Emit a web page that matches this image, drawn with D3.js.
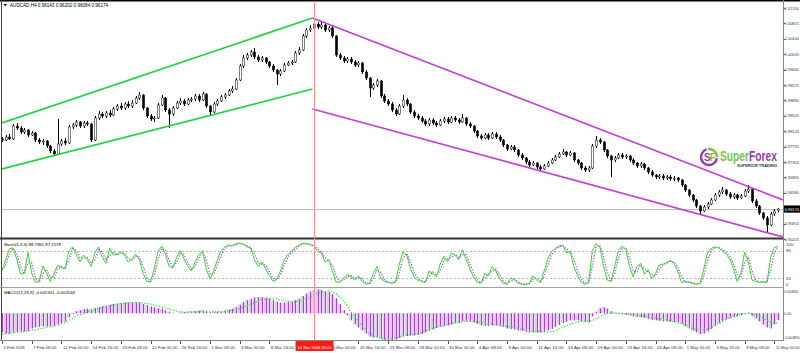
<!DOCTYPE html>
<html><head><meta charset="utf-8">
<script src="https://cdn.jsdelivr.net/npm/d3@7"></script>
<style>html,body{margin:0;padding:0;background:#fff;overflow:hidden}svg{display:block;font-family:"Liberation Sans",Arial,sans-serif}</style>
</head><body><svg id="c" width="800" height="353"></svg>
<script>
const symbolTitle = "AUDCAD,H4  0.96143 0.96202 0.96084 0.96174";
const stochTitle = "Stoch(5,3,3) 88.7965 87.2578";
const macdTitle = "MACD(12,26,9) -0.001341 -0.002044";

const opens = [
0.97925,0.97900,0.97975,0.97925,0.98250,0.98200,0.98100,0.98150,0.98025,0.98075,
0.97900,0.97850,0.97875,0.97750,0.97625,0.97550,0.97800,0.97875,0.97825,0.98225,
0.98275,0.98350,0.98250,0.98325,0.98300,0.97900,0.98450,0.98550,0.98500,0.98575,
0.98525,0.98675,0.98750,0.98700,0.98800,0.98750,0.98825,0.98950,0.99025,0.98700,
0.98500,0.98425,0.98450,0.98775,0.98950,0.98650,0.98550,0.98700,0.98825,0.98875,
0.98800,0.98900,0.98925,0.99000,0.98900,0.99050,0.98750,0.98600,0.98800,0.98875,
0.98975,0.99025,0.99125,0.99175,0.99400,0.99750,0.99950,1.00025,1.00100,0.99975,
0.99900,0.99950,0.99850,0.99750,0.99650,0.99550,0.99625,0.99775,0.99825,0.99850,
1.00075,1.00150,1.00500,1.00650,1.00700,1.00800,1.00725,1.00775,1.00650,1.00700,
1.00500,1.00025,0.99950,0.99875,0.99925,0.99850,0.99775,0.99825,0.99600,0.99450,
0.99200,0.99275,0.99375,0.99000,0.98875,0.98800,0.98650,0.98550,0.98750,0.98900,
0.98800,0.98600,0.98500,0.98450,0.98375,0.98300,0.98400,0.98325,0.98275,0.98375,
0.98425,0.98350,0.98450,0.98400,0.98350,0.98450,0.98300,0.98250,0.98125,0.98000,
0.97950,0.98025,0.97950,0.98050,0.97975,0.97900,0.97775,0.97675,0.97725,0.97650,
0.97525,0.97450,0.97350,0.97275,0.97325,0.97225,0.97175,0.97250,0.97325,0.97400,
0.97475,0.97550,0.97600,0.97525,0.97575,0.97400,0.97325,0.97200,0.97150,0.97200,
0.97750,0.97900,0.97850,0.97650,0.97500,0.97400,0.97450,0.97525,0.97475,0.97500,
0.97400,0.97325,0.97250,0.97300,0.97200,0.97100,0.97025,0.96975,0.97000,0.96950,
0.96975,0.96925,0.96950,0.96900,0.96775,0.96650,0.96525,0.96400,0.96250,0.96125,
0.96225,0.96300,0.96400,0.96525,0.96600,0.96650,0.96550,0.96475,0.96525,0.96450,
0.96500,0.96625,0.96675,0.96375,0.96250,0.96075,0.95950,0.95775,0.96050,0.96143];

const highs = [
0.97975,0.98025,0.98050,0.98300,0.98325,0.98250,0.98200,0.98175,0.98125,0.98100,
0.97950,0.97925,0.97900,0.97775,0.97675,0.98425,0.97925,0.97950,0.98275,0.98325,
0.98400,0.98375,0.98375,0.98375,0.98325,0.98500,0.98625,0.98600,0.98625,0.98650,
0.98725,0.98800,0.98825,0.98850,0.98875,0.98900,0.99000,0.99100,0.99050,0.98725,
0.98550,0.98500,0.98825,0.99025,0.98975,0.98700,0.98750,0.98875,0.98950,0.98925,
0.98950,0.98975,0.99050,0.99050,0.99100,0.99075,0.98775,0.98850,0.98925,0.99025,
0.99075,0.99175,0.99250,0.99450,0.99800,1.00025,1.00075,1.00150,1.00200,1.00025,
1.00000,0.99975,0.99875,0.99800,0.99675,0.99675,0.99825,0.99875,0.99900,1.00125,
1.00225,1.00550,1.00700,1.00775,1.00925,1.00850,1.00850,1.00800,1.00750,1.00750,
1.00525,1.00075,1.00000,0.99975,0.99975,0.99900,0.99875,0.99850,0.99650,0.99475,
0.99325,0.99425,0.99400,0.99050,0.98925,0.98850,0.98700,0.98800,0.99025,0.98950,
0.98825,0.98650,0.98550,0.98500,0.98425,0.98450,0.98450,0.98375,0.98425,0.98475,
0.98475,0.98500,0.98500,0.98450,0.98550,0.98475,0.98350,0.98275,0.98150,0.98050,
0.98075,0.98075,0.98100,0.98100,0.98025,0.97925,0.97800,0.97775,0.97775,0.97675,
0.97575,0.97475,0.97400,0.97375,0.97350,0.97275,0.97300,0.97375,0.97450,0.97525,
0.97600,0.97675,0.97625,0.97625,0.97600,0.97425,0.97350,0.97250,0.97250,0.97800,
0.98000,0.97950,0.97875,0.97675,0.97525,0.97500,0.97575,0.97575,0.97550,0.97525,
0.97450,0.97350,0.97350,0.97325,0.97225,0.97150,0.97050,0.97050,0.97050,0.97025,
0.97025,0.97000,0.96975,0.96925,0.96800,0.96675,0.96550,0.96425,0.96275,0.96275,
0.96350,0.96450,0.96575,0.96650,0.96725,0.96675,0.96600,0.96575,0.96550,0.96550,
0.96675,0.96775,0.96700,0.96425,0.96275,0.96100,0.96000,0.96100,0.96175,0.96202];

const lows = [
0.97850,0.97875,0.97900,0.97900,0.98150,0.98050,0.98050,0.97975,0.98000,0.97850,
0.97800,0.97775,0.97700,0.97575,0.97525,0.97525,0.97750,0.97775,0.97800,0.98175,
0.98225,0.98200,0.98200,0.98250,0.97850,0.97875,0.98400,0.98450,0.98450,0.98475,
0.98500,0.98625,0.98650,0.98650,0.98700,0.98700,0.98800,0.98900,0.98650,0.98450,
0.98375,0.98350,0.98425,0.98750,0.98600,0.98200,0.98500,0.98675,0.98775,0.98750,
0.98775,0.98850,0.98875,0.98850,0.98875,0.98700,0.98525,0.98575,0.98750,0.98850,
0.98925,0.99000,0.99075,0.99150,0.99375,0.99700,0.99900,0.99975,0.99925,0.99850,
0.99850,0.99800,0.99700,0.99600,0.99275,0.99500,0.99600,0.99750,0.99775,0.99825,
1.00025,1.00125,1.00450,1.00600,1.00650,1.00675,1.00675,1.00600,1.00600,1.00450,
0.99975,0.99900,0.99825,0.99825,0.99800,0.99725,0.99725,0.99550,0.99400,0.98975,
0.99150,0.99225,0.98950,0.98825,0.98750,0.98600,0.98500,0.98525,0.98700,0.98750,
0.98550,0.98450,0.98400,0.98325,0.98250,0.98250,0.98275,0.98225,0.98250,0.98325,
0.98300,0.98325,0.98350,0.98300,0.98325,0.98250,0.98200,0.98075,0.97950,0.97900,
0.97925,0.97900,0.97925,0.97925,0.97850,0.97725,0.97625,0.97650,0.97600,0.97475,
0.97400,0.97300,0.97225,0.97250,0.97175,0.97125,0.97150,0.97225,0.97300,0.97375,
0.97450,0.97525,0.97475,0.97500,0.97350,0.97275,0.97150,0.97100,0.97100,0.97175,
0.97700,0.97800,0.97600,0.97450,0.96975,0.97350,0.97425,0.97425,0.97425,0.97350,
0.97275,0.97200,0.97200,0.97150,0.97050,0.96975,0.96925,0.96925,0.96900,0.96900,
0.96875,0.96875,0.96850,0.96725,0.96600,0.96475,0.96350,0.96200,0.96025,0.96100,
0.96175,0.96275,0.96375,0.96475,0.96550,0.96500,0.96425,0.96425,0.96400,0.96425,
0.96475,0.96575,0.96325,0.96200,0.96025,0.95900,0.95600,0.95750,0.96000,0.96084];

const closes = [
0.97900,0.97975,0.97925,0.98250,0.98200,0.98100,0.98150,0.98025,0.98075,0.97900,
0.97850,0.97875,0.97750,0.97625,0.97550,0.97800,0.97875,0.97825,0.98225,0.98275,
0.98350,0.98250,0.98325,0.98300,0.97900,0.98450,0.98550,0.98500,0.98575,0.98525,
0.98675,0.98750,0.98700,0.98800,0.98750,0.98825,0.98950,0.99025,0.98700,0.98500,
0.98425,0.98450,0.98775,0.98950,0.98650,0.98550,0.98700,0.98825,0.98875,0.98800,
0.98900,0.98925,0.99000,0.98900,0.99050,0.98750,0.98600,0.98800,0.98875,0.98975,
0.99025,0.99125,0.99175,0.99400,0.99750,0.99950,1.00025,1.00100,0.99975,0.99900,
0.99950,0.99850,0.99750,0.99650,0.99550,0.99625,0.99775,0.99825,0.99850,1.00075,
1.00150,1.00500,1.00650,1.00700,1.00800,1.00725,1.00775,1.00650,1.00700,1.00500,
1.00025,0.99950,0.99875,0.99925,0.99850,0.99775,0.99825,0.99600,0.99450,0.99200,
0.99275,0.99375,0.99000,0.98875,0.98800,0.98650,0.98550,0.98750,0.98900,0.98800,
0.98600,0.98500,0.98450,0.98375,0.98300,0.98400,0.98325,0.98275,0.98375,0.98425,
0.98350,0.98450,0.98400,0.98350,0.98450,0.98300,0.98250,0.98125,0.98000,0.97950,
0.98025,0.97950,0.98050,0.97975,0.97900,0.97775,0.97675,0.97725,0.97650,0.97525,
0.97450,0.97350,0.97275,0.97325,0.97225,0.97175,0.97250,0.97325,0.97400,0.97475,
0.97550,0.97600,0.97525,0.97575,0.97400,0.97325,0.97200,0.97150,0.97200,0.97750,
0.97900,0.97850,0.97650,0.97500,0.97400,0.97450,0.97525,0.97475,0.97500,0.97400,
0.97325,0.97250,0.97300,0.97200,0.97100,0.97025,0.96975,0.97000,0.96950,0.96975,
0.96925,0.96950,0.96900,0.96775,0.96650,0.96525,0.96400,0.96250,0.96125,0.96225,
0.96300,0.96400,0.96525,0.96600,0.96650,0.96550,0.96475,0.96525,0.96450,0.96500,
0.96625,0.96675,0.96375,0.96250,0.96075,0.95950,0.95775,0.96050,0.96125,0.96174];

const stochK = [
36,60,84,86,60,28,30,76,30,10,
12,46,30,12,30,48,42,40,80,88,
72,55,70,60,45,75,88,65,52,85,
70,72,77,70,55,62,72,60,30,12,
12,40,78,90,72,45,42,65,80,62,
45,35,55,70,80,40,18,35,60,80,
88,92,90,95,96,94,88,85,60,45,
55,40,25,12,18,35,60,72,78,88,
92,96,95,93,90,78,75,55,60,35,
10,12,20,28,22,15,25,12,6,8,
30,45,20,12,10,8,12,50,78,70,
40,22,15,12,10,35,30,22,50,68,
55,75,70,60,82,60,40,22,10,8,
30,25,45,35,18,8,6,20,15,8,
6,5,8,25,15,10,35,62,78,85,
90,92,75,78,45,25,10,6,12,80,
95,88,45,15,12,45,80,90,82,45,
22,45,52,28,38,18,30,48,50,54,
58,52,35,10,12,10,8,6,8,40,
75,85,88,85,80,72,62,40,12,30,
77,55,15,12,10,12,10,65,87,88.7965];

const stochD = [
38,48,72,85,73,44,29,53,53,20,
11,29,38,21,21,39,45,41,60,84,
80,64,63,65,53,60,82,77,59,69,
78,71,75,74,63,59,67,66,45,21,
12,26,59,84,81,59,44,54,73,71,
54,40,45,63,75,60,29,27,48,70,
84,90,91,93,96,95,91,87,73,53,
50,48,33,19,15,27,48,66,75,83,
90,94,96,94,92,84,77,65,58,48,
23,11,16,24,25,19,20,19,9,7,
19,38,33,16,11,9,10,31,64,74,
55,31,19,14,11,23,33,26,36,59,
62,65,73,65,71,71,50,31,16,9,
19,28,35,40,27,13,7,13,18,12,
7,6,7,17,20,13,23,49,70,82,
88,91,84,77,62,35,18,8,9,46,
88,92,67,30,14,29,63,85,86,64,
34,34,49,40,33,28,24,39,49,52,
56,55,44,23,11,11,9,7,7,24,
58,80,87,87,83,76,67,51,26,21,
54,66,35,14,11,11,11,38,76,87.2578];

const macdMain = [
-0.0038,-0.0040,-0.0040,-0.0038,-0.0037,-0.0036,-0.0036,-0.0035,-0.0030,-0.0028,
-0.0027,-0.0026,-0.0026,-0.0025,-0.0024,-0.0022,-0.0020,-0.0016,-0.0008,-0.0002,
0.0004,0.0006,0.0008,0.0009,0.0008,0.0010,0.0012,0.0014,0.0015,0.0017,
0.0018,0.0019,0.0020,0.0021,0.0021,0.0022,0.0022,0.0021,0.0018,0.0016,
0.0014,0.0012,0.0010,0.0009,0.0006,0.0003,0.0001,0.0000,0.0001,0.0002,
0.0003,0.0004,0.0004,0.0005,0.0006,0.0004,0.0002,0.0002,0.0003,0.0004,
0.0005,0.0007,0.0009,0.0012,0.0017,0.0022,0.0026,0.0029,0.0031,0.0032,
0.0032,0.0031,0.0029,0.0026,0.0023,0.0021,0.0021,0.0022,0.0023,0.0026,
0.0029,0.0034,0.0039,0.0043,0.0046,0.0047,0.0046,0.0044,0.0042,0.0038,
0.0030,0.0018,0.0006,-0.0004,-0.0014,-0.0022,-0.0028,-0.0034,-0.0040,-0.0046,
-0.0048,-0.0047,-0.0050,-0.0052,-0.0053,-0.0053,-0.0052,-0.0049,-0.0046,-0.0045,
-0.0044,-0.0044,-0.0043,-0.0041,-0.0038,-0.0035,-0.0032,-0.0029,-0.0027,-0.0026,
-0.0024,-0.0022,-0.0020,-0.0019,-0.0016,-0.0015,-0.0016,-0.0018,-0.0021,-0.0024,
-0.0025,-0.0025,-0.0024,-0.0024,-0.0025,-0.0027,-0.0030,-0.0031,-0.0032,-0.0034,
-0.0035,-0.0037,-0.0038,-0.0038,-0.0038,-0.0038,-0.0037,-0.0034,-0.0031,-0.0027,
-0.0023,-0.0019,-0.0017,-0.0014,-0.0014,-0.0014,-0.0016,-0.0017,-0.0018,-0.0006,
0.0003,0.0010,0.0012,0.0009,0.0004,0.0001,-0.0001,-0.0002,-0.0003,-0.0004,
-0.0006,-0.0007,-0.0008,-0.0009,-0.0011,-0.0013,-0.0014,-0.0015,-0.0016,-0.0016,
-0.0017,-0.0017,-0.0018,-0.0021,-0.0025,-0.0030,-0.0034,-0.0038,-0.0041,-0.0040,
-0.0036,-0.0031,-0.0025,-0.0020,-0.0015,-0.0012,-0.0010,-0.0008,-0.0006,-0.0004,
-0.0002,-0.0001,-0.0005,-0.0010,-0.0016,-0.0022,-0.0028,-0.0030,-0.0022,-0.001341];

const macdSignal = [
-0.0042,-0.0041,-0.0040,-0.0039,-0.0038,-0.0037,-0.0036,-0.0035,-0.0034,-0.0033,
-0.0031,-0.0030,-0.0028,-0.0027,-0.0025,-0.0023,-0.0021,-0.0018,-0.0014,-0.0010,
-0.0006,-0.0003,0.0000,0.0003,0.0005,0.0007,0.0009,0.0011,0.0013,0.0015,
0.0017,0.0018,0.0019,0.0020,0.0021,0.0021,0.0021,0.0021,0.0020,0.0019,
0.0018,0.0016,0.0014,0.0012,0.0010,0.0008,0.0006,0.0004,0.0003,0.0002,
0.0002,0.0002,0.0003,0.0003,0.0004,0.0004,0.0004,0.0003,0.0003,0.0003,
0.0004,0.0005,0.0006,0.0007,0.0009,0.0012,0.0015,0.0018,0.0021,0.0024,
0.0027,0.0028,0.0029,0.0029,0.0028,0.0026,0.0025,0.0024,0.0023,0.0023,
0.0024,0.0026,0.0029,0.0032,0.0036,0.0039,0.0042,0.0043,0.0044,0.0043,
0.0038,0.0032,0.0024,0.0014,0.0002,-0.0008,-0.0017,-0.0025,-0.0033,-0.0040,
-0.0045,-0.0048,-0.0050,-0.0051,-0.0051,-0.0050,-0.0049,-0.0047,-0.0045,-0.0044,
-0.0043,-0.0042,-0.0040,-0.0038,-0.0035,-0.0032,-0.0030,-0.0028,-0.0026,-0.0024,
-0.0022,-0.0020,-0.0019,-0.0018,-0.0017,-0.0016,-0.0016,-0.0016,-0.0017,-0.0018,
-0.0020,-0.0021,-0.0022,-0.0023,-0.0024,-0.0025,-0.0026,-0.0027,-0.0028,-0.0030,
-0.0031,-0.0033,-0.0034,-0.0035,-0.0036,-0.0037,-0.0037,-0.0037,-0.0036,-0.0034,
-0.0031,-0.0028,-0.0025,-0.0022,-0.0019,-0.0017,-0.0016,-0.0016,-0.0016,-0.0014,
-0.0011,-0.0007,-0.0003,-0.0001,0.0000,0.0000,0.0000,-0.0001,-0.0001,-0.0002,
-0.0003,-0.0004,-0.0005,-0.0006,-0.0007,-0.0008,-0.0010,-0.0011,-0.0012,-0.0013,
-0.0015,-0.0017,-0.0019,-0.0021,-0.0024,-0.0027,-0.0030,-0.0032,-0.0034,-0.0033,
-0.0031,-0.0028,-0.0024,-0.0020,-0.0016,-0.0012,-0.0009,-0.0006,-0.0004,-0.0002,
-0.0001,0.0000,-0.0001,-0.0003,-0.0006,-0.0010,-0.0014,-0.0017,-0.0019,-0.002044];

const timeTickIndex = [0,8,16,24,32,40,48,56,64,72,80,88,96,104,112,120,128,136,144,152,160,168,176,184,192,200,208];
const timeTickLabels = ["2 Feb 2018","7 Feb 08:00","12 Feb 00:00","14 Feb 16:00","19 Feb 08:00","22 Feb 00:00","26 Feb 16:00","1 Mar 08:00","6 Mar 00:00","8 Mar 16:00","13 Mar 08:00","16 Mar 00:00","20 Mar 16:00","23 Mar 08:00","28 Mar 00:00","30 Mar 16:00","4 Apr 08:00","9 Apr 00:00","11 Apr 16:00","16 Apr 08:00","19 Apr 00:00","23 Apr 16:00","26 Apr 08:00","1 May 00:00","3 May 16:00","8 May 08:00","11 May 00:00"];
const markerIndex = 84;
const markerLabel = "14 Mar 2018 16:00";

const priceTicks = [1.01200,1.00815,1.00430,1.00045,0.99660,0.99275,0.98890,0.98505,0.98120,0.97735,0.97350,0.96965,0.96580,0.96195,0.95810,0.95425];
const lastPrice = 0.96174;
const stochLevels = [80,20];
const stochTicks = [100,80,20,0];
const macdTicks = [0.004806,0,-0.004894];
const macdTickLabels = ["0.004806","0.00","-0.004894"];

// trend channels: [candle index, price]
const greenUpper = [[0,0.98325],[83.6,1.00950]];
const greenLower = [[0,0.97175],[83.6,0.99175]];
const magentaUpper = [[83.6,1.00950],[210.33,0.96400]];
const magentaLower = [[83.6,0.98675],[210.33,0.95475]];

const svg = d3.select("#c");
const left = 2, right = 783;
const x = d3.scaleLinear().domain([0,210.33]).range([left,right]);
const yP = d3.scaleLinear().domain([0.95475,1.01400]).range([237,0]);
const yS = d3.scaleLinear().domain([0,100]).range([287,241.5]);
const yM = d3.scaleLinear().domain([-0.0053,0.0050]).range([340,288]);

const defs = svg.append("defs");
defs.append("clipPath").attr("id","cm").append("rect").attr("x",left).attr("y",1).attr("width",right-left).attr("height",236.5);
defs.append("clipPath").attr("id","cs").append("rect").attr("x",left).attr("y",239.5).attr("width",right-left).attr("height",47);
defs.append("clipPath").attr("id","cd").append("rect").attr("x",left).attr("y",288).attr("width",right-left).attr("height",52);

svg.append("rect").attr("width",800).attr("height",353).attr("fill","#fff");

// ---- main panel
const gm = svg.append("g").attr("clip-path","url(#cm)");
gm.append("line").attr("x1",left).attr("x2",right).attr("y1",Math.round(yP(lastPrice))+0.5).attr("y2",Math.round(yP(lastPrice))+0.5).attr("stroke","#c0c0c0").attr("stroke-width",1);

const idx = d3.range(closes.length);
const cx = i => Math.round(x(i)) + 0.5;
gm.append("g").selectAll("line").data(idx).join("line")
  .attr("x1",cx).attr("x2",cx)
  .attr("y1",i=>yP(highs[i])).attr("y2",i=>yP(lows[i]))
  .attr("stroke","#000").attr("stroke-width",1);
gm.append("g").selectAll("rect").data(idx).join("rect")
  .attr("x",i=>cx(i)-1.1).attr("width",2.2)
  .attr("y",i=>yP(Math.max(opens[i],closes[i])))
  .attr("height",i=>Math.max(1,Math.abs(yP(opens[i])-yP(closes[i]))))
  .attr("fill",i=>closes[i]>=opens[i]?"#ffffff":"#000000")
  .attr("stroke","#000").attr("stroke-width",0.5);

const chan = (pts,color)=> gm.append("line")
  .attr("x1",x(pts[0][0])).attr("y1",yP(pts[0][1]))
  .attr("x2",x(pts[1][0])).attr("y2",yP(pts[1][1]))
  .attr("stroke",color).attr("stroke-width",1.7);
chan(greenUpper,"#22d33f"); chan(greenLower,"#22d33f");
chan(magentaUpper,"#c43fd6"); chan(magentaLower,"#c43fd6");

// logo
const lg = svg.append("g").attr("transform","translate(709,157)");
const arc = d3.arc().innerRadius(6.8).outerRadius(9.2);
lg.append("path").attr("d",arc({startAngle:Math.PI*0.55,endAngle:Math.PI*1.9})).attr("fill","#8e3fae");
lg.append("path").attr("d",arc({startAngle:-Math.PI*0.05,endAngle:Math.PI*0.5})).attr("fill","#7cc242");
lg.append("text").attr("x",-5).attr("y",3.6).attr("font-size",10).attr("font-weight","bold").attr("fill","#8e3fae").text("S");
lg.append("text").attr("x",0.8).attr("y",3.6).attr("font-size",10).attr("font-weight","bold").attr("fill","#7cc242").text("F");
const lt = svg.append("text").attr("x",720).attr("y",161).attr("font-size",11).attr("font-weight","bold")
  .attr("textLength",57).attr("lengthAdjust","spacingAndGlyphs").attr("transform","translate(720,161) scale(1,1.3) translate(-720,-161)");
lt.append("tspan").attr("fill","#7cc242").text("Super");
lt.append("tspan").attr("fill","#8e3fae").text("Forex");
svg.append("text").attr("x",737).attr("y",166.8).attr("font-size",4.2).attr("font-weight","bold").attr("fill","#333")
  .attr("textLength",40).attr("lengthAdjust","spacingAndGlyphs").text("SUPERIOR TRADING");

// ---- stochastic
const gs = svg.append("g").attr("clip-path","url(#cs)");
gs.selectAll("line.lv").data(stochLevels).join("line").attr("class","lv")
  .attr("x1",left).attr("x2",right).attr("y1",d=>Math.round(yS(d))+0.5).attr("y2",d=>Math.round(yS(d))+0.5)
  .attr("stroke","#b8b8b8").attr("stroke-dasharray","2,2");
gs.append("path").attr("d",d3.line().x((d,i)=>x(i)).y(d=>yS(d))(stochD))
  .attr("fill","none").attr("stroke","#a64ad6").attr("stroke-width",1.3).attr("stroke-dasharray","1.2,1.6");
gs.append("path").attr("d",d3.line().x((d,i)=>x(i)).y(d=>yS(d))(stochK))
  .attr("fill","none").attr("stroke","#2edb2e").attr("stroke-width",1);

// ---- MACD
const gd = svg.append("g").attr("clip-path","url(#cd)");
gd.append("g").selectAll("rect").data(idx).join("rect")
  .attr("x",i=>x(i)-1.85).attr("width",3.3)
  .attr("y",i=>Math.min(yM(0),yM(macdMain[i])))
  .attr("height",i=>Math.abs(yM(macdMain[i])-yM(0)))
  .attr("fill","#e2c8f3");
gd.append("g").selectAll("rect").data(idx).join("rect")
  .attr("x",i=>Math.round(x(i))).attr("width",1)
  .attr("y",i=>Math.min(yM(0),yM(macdMain[i])))
  .attr("height",i=>Math.abs(yM(macdMain[i])-yM(0)))
  .attr("fill","#a243d4");
gd.append("path").attr("d",d3.line().x((d,i)=>x(i)).y(d=>yM(d))(macdSignal))
  .attr("fill","none").attr("stroke","#33e633").attr("stroke-width",1.3).attr("stroke-dasharray","1.3,1.7");

// ---- frames
svg.append("line").attr("x1",0).attr("x2",800).attr("y1",0.75).attr("y2",0.75).attr("stroke","#000").attr("stroke-width",1.5);
svg.append("line").attr("x1",1.5).attr("x2",1.5).attr("y1",0).attr("y2",340).attr("stroke","#444").attr("stroke-width",1);
svg.append("line").attr("x1",0).attr("x2",right).attr("y1",238.5).attr("y2",238.5).attr("stroke","#333").attr("stroke-width",2);
svg.append("line").attr("x1",0).attr("x2",right).attr("y1",287.5).attr("y2",287.5).attr("stroke","#a0a0a0").attr("stroke-width",1);
svg.append("line").attr("x1",0).attr("x2",right+0.5).attr("y1",340.5).attr("y2",340.5).attr("stroke","#888").attr("stroke-width",1);
svg.append("line").attr("x1",right+0.5).attr("x2",right+0.5).attr("y1",0).attr("y2",341).attr("stroke","#888").attr("stroke-width",1);

// marker line
const mx = Math.round(x(markerIndex))+0.5;
svg.append("line").attr("x1",mx).attr("x2",mx).attr("y1",1).attr("y2",340).attr("stroke","#ff8a8a").attr("stroke-width",1);

// titles
svg.append("path").attr("d","M3.5,4 L7,4 L5.25,6.2 Z").attr("fill","#000");
svg.append("text").attr("x",10).attr("y",6.8).attr("font-size",4.6).attr("fill","#000").text(symbolTitle);
svg.append("text").attr("x",4).attr("y",245.8).attr("font-size",4.3).attr("fill","#000").text(stochTitle);
svg.append("text").attr("x",4).attr("y",293.8).attr("font-size",4.3).attr("fill","#000").text(macdTitle);

// price axis
const axFs = 4.1, axCol = "#2b3550";
const pa = svg.append("g");
pa.selectAll("line").data(priceTicks).join("line")
  .attr("x1",right+0.5).attr("x2",right+2.5).attr("y1",d=>Math.round(yP(d))+0.5).attr("y2",d=>Math.round(yP(d))+0.5).attr("stroke","#555");
pa.selectAll("text").data(priceTicks).join("text")
  .attr("x",784.8).attr("y",d=>Math.min(240.5,yP(d)+1.6)).attr("font-size",axFs).attr("fill",axCol)
  .attr("textLength",14).attr("lengthAdjust","spacingAndGlyphs").text(d3.format(".5f"));
const lpY = yP(lastPrice);
svg.append("rect").attr("x",right+1).attr("y",lpY-3.6).attr("width",800-right-1).attr("height",7.2).attr("fill","#000");
svg.append("text").attr("x",784.8).attr("y",lpY+1.6).attr("font-size",axFs).attr("fill","#fff")
  .attr("textLength",14).attr("lengthAdjust","spacingAndGlyphs").text(d3.format(".5f")(lastPrice));

// stoch axis
svg.append("g").selectAll("text").data(stochTicks).join("text")
  .attr("x",786).attr("y",d=>Math.min(285.5,Math.max(246,yS(d)+1.6))).attr("font-size",4.4).attr("fill",axCol).text(d=>d);
// macd axis
svg.append("g").selectAll("text").data(macdTicks).join("text")
  .attr("x",784.3).attr("y",d=>Math.min(339,Math.max(293,yM(d)+1.6))).attr("font-size",3.4).attr("fill",axCol)
  .attr("textLength",(d,i)=>Math.min(15,macdTickLabels[i].length*1.7)).attr("lengthAdjust","spacingAndGlyphs")
  .text((d,i)=>macdTickLabels[i]);

// time axis
const ta = svg.append("g");
ta.selectAll("line").data(timeTickIndex).join("line")
  .attr("x1",i=>Math.round(x(i))+0.5).attr("x2",i=>Math.round(x(i))+0.5).attr("y1",341).attr("y2",344).attr("stroke","#555");
ta.selectAll("text").data(timeTickIndex).join("text")
  .attr("x",i=>x(i)+1.5).attr("y",348.8).attr("font-size",3.9).attr("fill",axCol)
  .attr("textLength",(d,k)=>Math.min(timeTickLabels[k].length*2.12, 799.5-(x(d)+1.5))).attr("lengthAdjust","spacingAndGlyphs")
  .text((d,k)=>timeTickLabels[k]);
const mlW = 38;
svg.append("rect").attr("x",mx-mlW/2).attr("y",341).attr("width",mlW).attr("height",10).attr("fill","#ff1a1a");
svg.append("text").attr("x",mx-17).attr("y",348.6).attr("font-size",4.3).attr("fill","#fff")
  .attr("textLength",34).attr("lengthAdjust","spacingAndGlyphs").text(markerLabel);
</script></body></html>
